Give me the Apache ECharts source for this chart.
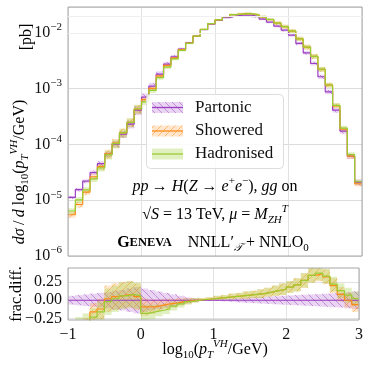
<!DOCTYPE html>
<html><head><meta charset="utf-8">
<script src="https://cdn.jsdelivr.net/npm/echarts@6/dist/echarts.min.js"></script>
<style>html,body{margin:0;padding:0;background:#fff}#c{width:366px;height:365px}</style>
</head><body><div id="c"></div><script>
// ---- data ----
const binLow = [-1.0,-0.9,-0.8,-0.7,-0.6,-0.5,-0.4,-0.3,-0.2,-0.1,
  0.0,0.1,0.2,0.3,0.4,0.5,0.6,0.7,0.8,0.9,
  1.0,1.1,1.2,1.3,1.4,1.5,1.6,1.7,1.8,1.9,
  2.0,2.1,2.2,2.3,2.4,2.5,2.6,2.7,2.8,2.9];
const binWidth = 0.1;
const partonic = [1.12e-5,1.55e-5,2.19e-5,3.13e-5,4.54e-5,6.67e-5,1.01e-4,1.52e-4,2.30e-4,4.10e-4,
  7.03e-4,1.11e-3,1.82e-3,2.75e-3,3.71e-3,5.10e-3,6.62e-3,8.73e-3,1.14e-2,1.43e-2,
  1.66e-2,1.87e-2,2.02e-2,2.07e-2,2.07e-2,1.94e-2,1.76e-2,1.56e-2,1.32e-2,1.12e-2,
  9.09e-3,6.45e-3,4.38e-3,2.82e-3,1.63e-3,8.75e-4,4.10e-4,1.73e-4,6.14e-5,2.10e-5];
const showered = [5.49e-6,8.37e-6,1.40e-5,2.63e-5,4.00e-5,6.80e-5,1.06e-4,1.63e-4,2.48e-4,4.31e-4,
  6.40e-4,1.01e-3,1.69e-3,2.61e-3,3.56e-3,5.00e-3,6.55e-3,8.73e-3,1.15e-2,1.46e-2,
  1.71e-2,1.94e-2,2.12e-2,2.19e-2,2.21e-2,2.10e-2,1.92e-2,1.73e-2,1.49e-2,1.29e-2,
  1.07e-2,7.80e-3,5.56e-3,3.78e-3,2.22e-3,1.155e-3,4.92e-4,1.87e-4,6.14e-5,1.97e-5];
const hadronised = [6.4e-6,1.01e-5,1.53e-5,2.41e-5,3.81e-5,6.54e-5,1.03e-4,1.61e-4,2.48e-4,4.35e-4,
  5.76e-4,9.32e-4,1.57e-3,2.42e-3,3.41e-3,4.85e-3,6.49e-3,8.73e-3,1.15e-2,1.46e-2,
  1.71e-2,1.94e-2,2.12e-2,2.19e-2,2.21e-2,2.10e-2,1.92e-2,1.73e-2,1.49e-2,1.29e-2,
  1.07e-2,7.80e-3,5.56e-3,3.78e-3,2.23e-3,1.16e-3,5.00e-4,1.95e-4,6.57e-5,2.14e-5];
const partonicFrac = [0,0,0,0,0,0,0,0,0,0, 0,0,0,0,0,0,0,0,0,0, 0,0,0,0,0,0,0,0,0,0, 0,0,0,0,0,0,0,0,0,0];
const showeredFrac = [-0.51,-0.46,-0.36,-0.16,-0.12,0.02,0.05,0.07,0.08,0.05,
  -0.09,-0.09,-0.07,-0.05,-0.04,-0.02,-0.01,0.0,0.01,0.02,
  0.03,0.04,0.05,0.06,0.07,0.08,0.09,0.11,0.13,0.15,
  0.18,0.21,0.27,0.34,0.36,0.32,0.20,0.08,0.0,-0.06];
const hadronisedFrac = [-0.43,-0.35,-0.30,-0.23,-0.16,-0.02,0.02,0.06,0.08,0.06,
  -0.18,-0.16,-0.14,-0.12,-0.08,-0.05,-0.02,0.0,0.01,0.02,
  0.03,0.04,0.05,0.06,0.07,0.08,0.09,0.11,0.13,0.15,
  0.18,0.21,0.27,0.34,0.37,0.33,0.22,0.13,0.07,0.02];
const partonicUnc = [0.06,0.07,0.08,0.09,0.10,0.11,0.13,0.14,0.16,0.18,
  0.16,0.14,0.12,0.10,0.08,0.06,0.04,0.025,0.01,0.005,
  0.01,0.015,0.02,0.03,0.035,0.04,0.045,0.05,0.055,0.06,
  0.065,0.07,0.075,0.08,0.085,0.09,0.095,0.10,0.11,0.12];
const showeredUnc = [0.12,0.12,0.12,0.12,0.14,0.18,0.18,0.18,0.18,0.18,
  0.12,0.10,0.08,0.07,0.06,0.05,0.04,0.03,0.02,0.02,
  0.03,0.03,0.04,0.04,0.05,0.05,0.06,0.06,0.07,0.08,
  0.08,0.09,0.10,0.10,0.10,0.10,0.10,0.10,0.10,0.10];
const hadronisedUnc = [0.12,0.12,0.12,0.12,0.14,0.18,0.18,0.18,0.18,0.18,
  0.12,0.10,0.08,0.07,0.06,0.05,0.04,0.03,0.02,0.02,
  0.03,0.03,0.04,0.04,0.05,0.05,0.06,0.06,0.07,0.08,
  0.08,0.09,0.10,0.10,0.10,0.10,0.10,0.10,0.10,0.10];
const xTicks = [-1, 0, 1, 2, 3];
const fracTicks = [-0.25, 0, 0.25];
const legendNames = ['Partonic', 'Showered', 'Hadronised'];

// ---- styles ----
const FONT = 'Liberation Serif';
const colPurple = '#9d3fc4', colOrange = '#ff8c1a', colGreen = '#9acd32';
function hatch(bg, line, dir) {
  const s = 7, c = document.createElement('canvas');
  c.width = s; c.height = s;
  const g = c.getContext('2d');
  g.fillStyle = bg; g.fillRect(0, 0, s, s);
  if (line) {
    g.strokeStyle = line; g.lineWidth = 0.9; g.beginPath();
    if (dir > 0) { g.moveTo(-1, s + 1); g.lineTo(s + 1, -1); g.moveTo(-1, 1); g.lineTo(1, -1); g.moveTo(s - 1, s + 1); g.lineTo(s + 1, s - 1); }
    else { g.moveTo(-1, -1); g.lineTo(s + 1, s + 1); g.moveTo(-1, s - 1); g.lineTo(1, s + 1); g.moveTo(s - 1, -1); g.lineTo(s + 1, 1); }
    g.stroke();
  }
  return { image: c, repeat: 'repeat' };
}
const patPurple = hatch('rgba(157,63,196,0.22)', 'rgba(157,63,196,0.55)', -1);
const patOrange = hatch('rgba(255,140,26,0.22)', 'rgba(255,140,26,0.55)', 1);
const patGreen = hatch('rgba(154,205,50,0.30)', null, 0);

function stepData(vals) {
  const d = binLow.map((x, i) => [x, vals[i]]);
  d.push([binLow[binLow.length - 1] + binWidth, vals[vals.length - 1]]);
  return d;
}
function bandTop(vals, unc) { return binLow.map((x, i) => [x, x + binWidth, vals[i] * (1 - unc[i]), vals[i] * (1 + unc[i])]); }
function bandRatio(fr, unc) { return binLow.map((x, i) => [x, x + binWidth, fr[i] - unc[i], fr[i] + unc[i]]); }
function bandRender(pat) {
  return function (params, api) {
    const a = api.coord([api.value(0), api.value(3)]);
    const b = api.coord([api.value(1), api.value(2)]);
    return { type: 'rect', shape: { x: a[0], y: a[1], width: b[0] - a[0], height: b[1] - a[1] }, style: { fill: pat } };
  };
}
function bandSeries(data, pat, gi, z) {
  return { type: 'custom', xAxisIndex: gi, yAxisIndex: gi, clip: true, silent: true, z: z,
    renderItem: bandRender(pat), data: data, encode: { x: [0, 1], y: [2, 3] } };
}
function lineSeries(data, col, gi, z) {
  return { type: 'line', xAxisIndex: gi, yAxisIndex: gi, step: 'end', showSymbol: false, symbol: 'none', clip: true,
    silent: true, z: z, lineStyle: { color: col, width: 1.2 }, data: data };
}
const minorVals = [];
for (let e = -6; e <= -2; e++) for (let k = 2; k <= 9; k++) { const v = k * Math.pow(10, e); if (v < 0.029) minorVals.push(v); }

const rich = {
  b: { fontFamily: FONT, fontSize: 16, lineHeight: 22, color: '#111' },
  i: { fontFamily: FONT, fontSize: 16, lineHeight: 22, fontStyle: 'italic', color: '#111' },
  sup: { fontFamily: FONT, fontSize: 11, lineHeight: 11, verticalAlign: 'top', color: '#111' },
  supi: { fontFamily: FONT, fontSize: 11, lineHeight: 11, verticalAlign: 'top', fontStyle: 'italic', color: '#111' },
  sub: { fontFamily: FONT, fontSize: 11, lineHeight: 11, verticalAlign: 'bottom', color: '#111' },
  subi: { fontFamily: FONT, fontSize: 11, lineHeight: 11, verticalAlign: 'bottom', fontStyle: 'italic', color: '#111' },
  bb: { fontFamily: FONT, fontSize: 16, lineHeight: 22, fontWeight: 'bold', color: '#111' },
  bs: { fontFamily: FONT, fontSize: 12.5, lineHeight: 22, fontWeight: 'bold', color: '#111' }
};

const chart = echarts.init(document.getElementById('c'), null, { renderer: 'canvas' });
const gridLine = { show: true, lineStyle: { color: '#e2e2e2', width: 1 } };
const option = {
  animation: false,
  backgroundColor: '#fff',
  grid: [
    { left: 68, right: 4, top: 7, height: 249, show: true, borderColor: '#a6a6a6', borderWidth: 1, backgroundColor: 'transparent', z: 5 },
    { left: 68, right: 4, top: 268, height: 52, show: true, borderColor: '#a6a6a6', borderWidth: 1, backgroundColor: 'transparent', z: 5 }
  ],
  xAxis: [
    { type: 'value', gridIndex: 0, min: -1, max: 3, interval: 1, axisLine: { show: false }, axisTick: { show: false }, axisLabel: { show: false }, splitLine: gridLine },
    { type: 'value', gridIndex: 1, min: -1, max: 3, interval: 1, axisLine: { show: false }, axisTick: { show: false }, splitLine: gridLine,
      axisLabel: { margin: 7, fontFamily: FONT, fontSize: 16, color: '#111', formatter: v => (v < 0 ? '\u2212' + Math.abs(v) : String(v)) } }
  ],
  yAxis: [
    { type: 'log', gridIndex: 0, logBase: 10, min: 1e-6, max: 0.029, axisLine: { show: false }, axisTick: { show: false }, splitLine: { show: true, lineStyle: { color: '#dcdcdc' } },
      axisLabel: { margin: 6, rich: rich, formatter: v => { const e = Math.log10(v); if (Math.abs(e - Math.round(e)) > 1e-6) return ''; return '{b|10}{sup|\u2212' + (-Math.round(e)) + '}'; } } },
    { type: 'value', gridIndex: 1, min: -0.27, max: 0.44, axisLine: { show: false },
      axisTick: { show: false, customValues: fracTicks }, splitLine: gridLine,
      axisLabel: { margin: 6, fontFamily: FONT, fontSize: 16, color: '#111', customValues: fracTicks,
        formatter: v => (v < 0 ? '\u2212' : '') + Math.abs(v).toFixed(2) } }
  ],
  series: [
    { type: 'line', xAxisIndex: 0, yAxisIndex: 0, data: [], silent: true, z: 1,
      markLine: { silent: true, symbol: 'none', label: { show: false }, animation: false,
        lineStyle: { color: '#efefef', type: 'solid', width: 1 }, data: minorVals.map(v => ({ yAxis: v })) } },
    bandSeries(bandTop(partonic, partonicUnc), patPurple, 0, 2),
    bandSeries(bandTop(showered, showeredUnc), patOrange, 0, 2),
    bandSeries(bandTop(hadronised, hadronisedUnc), patGreen, 0, 2),
    lineSeries(stepData(partonic), colPurple, 0, 3),
    lineSeries(stepData(showered), colOrange, 0, 3),
    lineSeries(stepData(hadronised), colGreen, 0, 3),
    bandSeries(bandRatio(partonicFrac, partonicUnc), patPurple, 1, 2),
    bandSeries(bandRatio(showeredFrac, showeredUnc), patOrange, 1, 2),
    bandSeries(bandRatio(hadronisedFrac, hadronisedUnc), patGreen, 1, 2),
    lineSeries(stepData(partonicFrac), colPurple, 1, 3),
    lineSeries(stepData(showeredFrac), colOrange, 1, 3),
    lineSeries(stepData(hadronisedFrac), colGreen, 1, 3)
  ],
  graphic: [
    // legend box
    { type: 'rect', z: 50, shape: { x: 146.5, y: 94.5, width: 137, height: 74, r: 4 }, style: { fill: 'rgba(255,255,255,0.85)', stroke: '#dddddd', lineWidth: 1 } },
    { type: 'rect', z: 51, shape: { x: 152, y: 102, width: 31, height: 11 }, style: { fill: patPurple } },
    { type: 'line', z: 52, shape: { x1: 152, y1: 107.5, x2: 183, y2: 107.5 }, style: { stroke: colPurple, lineWidth: 1.3 } },
    { type: 'rect', z: 51, shape: { x: 152, y: 125.5, width: 31, height: 11 }, style: { fill: patOrange } },
    { type: 'line', z: 52, shape: { x1: 152, y1: 131, x2: 183, y2: 131 }, style: { stroke: colOrange, lineWidth: 1.3 } },
    { type: 'rect', z: 51, shape: { x: 152, y: 148.5, width: 31, height: 11 }, style: { fill: patGreen } },
    { type: 'line', z: 52, shape: { x1: 152, y1: 154, x2: 183, y2: 154 }, style: { stroke: colGreen, lineWidth: 1.3 } },
    { type: 'text', z: 52, x: 195, y: 107.5, style: { text: legendNames[0], font: '17px "Liberation Serif"', fill: '#111', verticalAlign: 'middle' } },
    { type: 'text', z: 52, x: 195, y: 131, style: { text: legendNames[1], font: '17px "Liberation Serif"', fill: '#111', verticalAlign: 'middle' } },
    { type: 'text', z: 52, x: 195, y: 154, style: { text: legendNames[2], font: '17px "Liberation Serif"', fill: '#111', verticalAlign: 'middle' } },
    // annotations
    { type: 'text', z: 52, x: 215, y: 187, style: { rich: rich, align: 'center', verticalAlign: 'middle',
      text: '{i|pp} {b|\u2192 }{i|H}{b|(}{i|Z}{b| \u2192 }{i|e}{sup|+}{i|e}{sup|\u2212}{b|), }{i|gg}{b| on}' } },
    { type: 'text', z: 52, x: 215, y: 215, style: { rich: rich, align: 'center', verticalAlign: 'middle',
      text: '{b|\u221A}{i|S}{b| = 13 TeV, }{i|\u03BC}{b| = }{i|M}{subi|ZH}{supi|T}' } },
    { type: 'text', z: 52, x: 213, y: 243, style: { rich: rich, align: 'center', verticalAlign: 'middle',
      text: '{bb|G}{bs|ENEVA}{b|    NNLL\u2032}{subi|\uD835\uDCAF}{b| + NNLO}{sub|0}' } },
    // axis titles
    { type: 'text', z: 52, x: 20, y: 172, rotation: Math.PI / 2, style: { rich: rich, align: 'center', verticalAlign: 'middle',
      text: '{i|d\u03C3} {b|/} {i|d}{b| log}{sub|10}{b|(}{i|p}{subi|T}{supi|VH}{b|/GeV)}' } },
    { type: 'text', z: 52, x: 27, y: 37, rotation: Math.PI / 2, style: { rich: rich, align: 'center', verticalAlign: 'middle', text: '{b|[pb]}' } },
    { type: 'text', z: 52, x: 17, y: 294, rotation: Math.PI / 2, style: { rich: rich, align: 'center', verticalAlign: 'middle', text: '{b|frac.diff.}' } },
    { type: 'text', z: 52, x: 215, y: 350, style: { rich: rich, align: 'center', verticalAlign: 'middle',
      text: '{b|log}{sub|10}{b|(}{i|p}{subi|T}{supi|VH}{b|/GeV)}' } }
  ]
};
chart.setOption(option);
</script></body></html>
